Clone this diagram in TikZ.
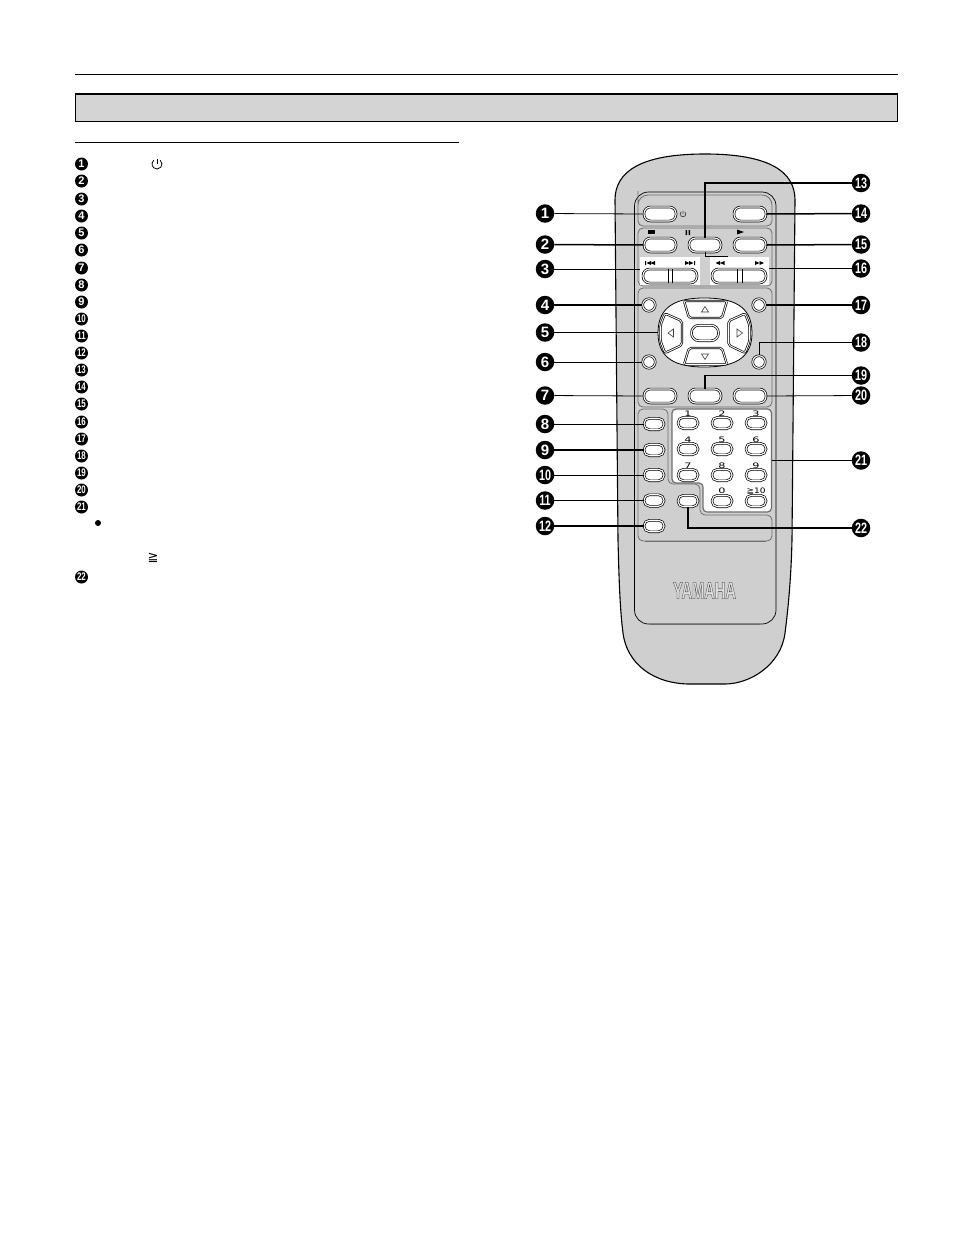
\documentclass[tikz,border=0pt]{standalone}
\usepackage{fontspec}
\setmainfont{Liberation Sans}
\newfontfamily\djv{DejaVu Sans}
\definecolor{bodygrey}{HTML}{CFCFCF}
\definecolor{bargrey}{HTML}{D4D4D4}
\definecolor{edgegrey}{HTML}{6E6E6E}
\newcommand{\cnum}[1]{\ifnum#1>9 \scalebox{0.72}[1]{#1}\else #1\fi}
\tikzset{
  x=1pt,y=-1pt,
  heavy/.style={line width=1.5pt,black},
  light/.style={line width=0.8pt,black},
  panel/.style={draw=edgegrey,line width=0.8pt,fill=bodygrey,rounded corners=5pt},
  btn/.style={draw=black,line width=0.7pt,double=white,double distance=1.1pt,fill=white,rounded corners=6.5pt,inner sep=0pt,minimum width=32pt,minimum height=14pt},
  wide/.style={btn,minimum width=54pt},
  small/.style={btn,rounded corners=5.5pt,minimum width=20pt,minimum height=11.5pt},
  rbtn/.style={circle,draw=black,line width=0.7pt,double=white,double distance=1.1pt,fill=white,inner sep=0pt,minimum size=12.5pt},
  padkey/.style={draw=black,line width=0.7pt,double=white,double distance=0.9pt,fill=white,line join=round,rounded corners=2pt},
  tri/.style={draw=black!75,line width=0.6pt},
  sym/.style={fill=black,draw=none},
  callout/.style={circle,fill=black,text=white,inner sep=0pt,minimum size=18.5pt,font=\fontsize{15}{15}\bfseries\selectfont},
  listnum/.style={circle,fill=black,text=white,inner sep=0pt,minimum size=13pt,font=\fontsize{11}{11}\bfseries\selectfont},
  digit/.style={inner sep=0pt,font=\djv\fontsize{7.5}{7.5}\selectfont},
}
\begin{document}
\begin{tikzpicture}
\useasboundingbox (0,0) rectangle (954,1237);
\fill[white] (0,0) rectangle (954,1237);
% page head
\draw[line width=1pt] (75,74.5) -- (898,74.5);
\draw[fill=bargrey,line width=1pt] (75.5,93.5) rectangle (897.5,121);
\draw[line width=2pt] (75,93.5) -- (898,93.5);
\draw[line width=1pt] (75,142.5) -- (459,142.5);
% list numbers
\foreach \n/\y in {1/164,2/181,3/199,4/216,5/233,6/250,7/268,8/285,9/302,10/319,11/336,12/353,13/370,14/387,15/404,16/422,17/439,18/456,19/473,20/490,21/507,22/577}
  \node[listnum] (l\n) at (81.5,\y) {\cnum{\n}};
\draw[line width=0.8pt] (157,159) -- (157,164);
\draw[line width=0.8pt] (157,164) ++(-50:5) arc[start angle=-50,end angle=230,radius=5];
\fill (98,523) circle (3);
\node[inner sep=0pt,font=\djv\fontsize{13}{13}\selectfont] (geq) at (153,558) {≧};
% remote body
\draw[fill=bodygrey,line width=1.1pt]
  (615,200) .. controls (615,172) and (640,154) .. (705,154)
  .. controls (770,154) and (795,172) .. (795,200)
  -- (792,540) .. controls (791,580) and (788,610) .. (785,633)
  .. controls (781,665) and (750,684) .. (725,684) -- (690,684)
  .. controls (655,684) and (627,665) .. (623,633)
  .. controls (620,610) and (619,580) .. (618,540) -- cycle;
\draw[line width=0.7pt,fill=bodygrey,rounded corners=14pt] (634.5,192) rectangle (776,624);
\draw[edgegrey,line width=1.2pt] (650,624.5) -- (760,624.5);
% panels
\draw[panel] (638,226) -- (638,196) [rounded corners=10pt] -- (638,195) -- (772,195) [rounded corners=5pt] -- (772,226) -- cycle;
\draw[panel] (638,228) rectangle (772,286);
\draw[panel] (638,288) rectangle (772,407);
\draw[panel] (638,409) -- (668,409) -- (668,484) -- (700,484) -- (700,515) -- (772,515) -- (772,541) -- (638,541) -- cycle;
\draw[edgegrey,line width=1.3pt] (645,541.5) -- (766,541.5);
% white plates
\node[fill=white,inner sep=0pt,minimum width=60pt,minimum height=28pt] (w1) at (670,271) {};
\node[fill=white,inner sep=0pt,minimum width=59pt,minimum height=28pt] (w2) at (739.5,271) {};
\draw[fill=white,draw=edgegrey,line width=1.2pt,rounded corners=4pt]
  (672,409) -- (771.5,409) -- (771.5,512) -- (703,512) -- (703,483) -- (672,483) -- cycle;
\coordinate (npedge) at (772,460);
% top keys
\node[btn] (b1) at (660,214) {};
\node[btn] (b14) at (750,214) {};
\node[btn] (b2) at (660,245) {};
\node[btn] (b13) at (705,245) {};
\node[btn] (b15) at (750,245) {};
\node[wide] (b3) at (670,276) {};
\node[wide] (b16) at (739,276) {};
\draw[line width=0.7pt] (668,269) -- (668,283) (672.5,269) -- (672.5,283);
\draw[line width=0.7pt] (737,269) -- (737,283) (742,269) -- (742,283);
% key symbols
\fill[sym] (648,229.5) rectangle (655,234);
\fill[sym] (685.5,230) rectangle (687,235) (688.5,230) rectangle (690,235);
\fill[sym] (737,229.5) -- (744,232) -- (737,234.5) -- cycle;
\draw[black!70,line width=0.8pt] (683,210.5) -- (683,214) (683,214) ++(-50:2.8) arc[start angle=-50,end angle=230,radius=2.8];
\fill[sym] (645,261) rectangle (646,265) (651,261) -- (646.5,263) -- (651,265) -- cycle (655,261) -- (650.5,263) -- (655,265) -- cycle;
\fill[sym] (695,261) rectangle (694,265) (689,261) -- (693.5,263) -- (689,265) -- cycle (685,261) -- (689.5,263) -- (685,265) -- cycle;
\fill[sym] (720,261) -- (715.5,263) -- (720,265) -- cycle (724.5,261) -- (720,263) -- (724.5,265) -- cycle;
\fill[sym] (755,261) -- (759.5,263) -- (755,265) -- cycle (759.5,261) -- (764,263) -- (759.5,265) -- cycle;
% navigation pad
\draw[fill=white,draw=black,line width=0.8pt]
  (658,333) .. controls (658,305) and (678,298) .. (704,298)
  .. controls (732,298) and (752,305) .. (752,333)
  .. controls (752,360) and (732,367) .. (704,367)
  .. controls (678,367) and (658,360) .. (658,333) -- cycle;
\coordinate (padw) at (658,332.5);
\draw[padkey] (684,301) -- (727,301) -- (722,318) -- (689,318) -- cycle;
\draw[padkey] (684,364.5) -- (727,364.5) -- (722,348) -- (689,348) -- cycle;
\draw[padkey] (660.5,325) -- (665,313.5) -- (682,321) -- (682,345) -- (665,353) -- (660.5,341) -- cycle;
\draw[padkey] (749.5,325) -- (745,313.5) -- (728.5,321) -- (728.5,345) -- (745,353) -- (749.5,341) -- cycle;
\node[btn,minimum width=27pt,minimum height=15.5pt,rounded corners=7.5pt] (bok) at (705,333) {};
\draw[tri] (701.5,312) -- (705,306.5) -- (708.5,312) -- cycle;
\draw[tri] (701.5,354) -- (705,359.5) -- (708.5,354) -- cycle;
\draw[tri] (673.5,329) -- (668,333) -- (673.5,337) -- cycle;
\draw[tri] (737,329) -- (742.5,333) -- (737,337) -- cycle;
% round keys
\node[rbtn] (b4) at (649,305) {};
\node[rbtn] (b17) at (759,305) {};
\node[rbtn] (b6) at (649,362) {};
\node[rbtn] (b18) at (759,362) {};
\node[btn] (b7) at (660,396) {};
\node[btn] (b19) at (705,396) {};
\node[btn] (b20) at (750,396) {};
% left column
\node[small] (b8) at (654,424) {};
\node[small] (b9) at (654,450) {};
\node[small] (b10) at (654,475) {};
\node[small] (b11) at (654,500.5) {};
\node[small] (b12) at (654,526) {};
\node[small] (b22) at (688,501) {};
% number keys
\foreach \lab/\x/\y in {1/688/423,2/722/423,3/756/423,4/688/449,5/722/449,6/756/449,7/688/475,8/722/475,9/756/475,0/722/501,10/756/501}
  \node[small] (n\lab) at (\x,\y) {};
\foreach \lab/\x/\y in {1/688/414,2/722/414,3/756/414,4/688/440,5/722/440,6/756/440,7/688/466,8/722/466,9/756/466,0/722/491}
  \node[digit] at (\x,\y) {\scalebox{1.5}[1]{\lab}};
\node[digit] at (756,491) {\scalebox{1.2}[1]{≧10}};
% logo
\node[inner sep=0pt,font=\fontsize{24}{24}\bfseries\selectfont] (logo) at (704.5,590.5)
  {\scalebox{0.61}[1]{\special{pdf: code 0.2 G 0.88 g 2 Tr 0.4 w}YAMAHA\special{pdf: code 0 Tr 0 G 0 g}}};
% callouts
\foreach \n/\y in {1/213.5,2/244.5,3/269,4/305,5/332.5,6/362,7/395.5,8/424,9/450,10/475,11/500.5,12/526}
  \node[callout] (c\n) at (545,\y) {\cnum{\n}};
\foreach \n/\y in {13/183,14/213.5,15/244.5,16/268.5,17/305,18/342.5,19/375.5,20/395.5,21/460.5,22/528}
  \node[callout] (c\n) at (861,\y) {\cnum{\n}};
% connectors
\draw[light] (c1) -- (b1.west);
\draw[heavy] (c2) -- (b2.west);
\draw[light] (c3) -- (c3 -| w1.west);
\draw[heavy] (c4) -- (b4.west);
\draw[heavy] (c5) -- (padw);
\draw[light] (c6) -- (b6.west);
\draw[light] (c7) -- (b7.west);
\draw[light] (c8) -- (b8.west);
\draw[heavy] (c9) -- (b9.west);
\draw[light] (c10) -- (b10.west);
\draw[heavy] (c11) -- (b11.west);
\draw[heavy] (c12) -- (b12.west);
\draw[heavy] (c13) -- (b13 |- c13) -- (b13.north);
\draw[heavy] (c14) -- (b14.east);
\draw[heavy] (c15) -- (b15.east);
\draw[light] (c16) -- (c16 -| w2.east);
\draw[light] (b13.south) -- (705,256.5) -- (728,256.5);
\draw[heavy] (c17) -- (b17.east);
\draw[light] (c18) -- (b18 |- c18) -- (b18.north);
\draw[heavy] (c19) -- (b19 |- c19) -- (b19.north);
\draw[light] (c20) -- (b20.east);
\draw[heavy] (c21) -- (npedge |- c21);
\draw[heavy] (c22) -- (b22 |- c22) -- (b22.south);
\end{tikzpicture}
\end{document}
